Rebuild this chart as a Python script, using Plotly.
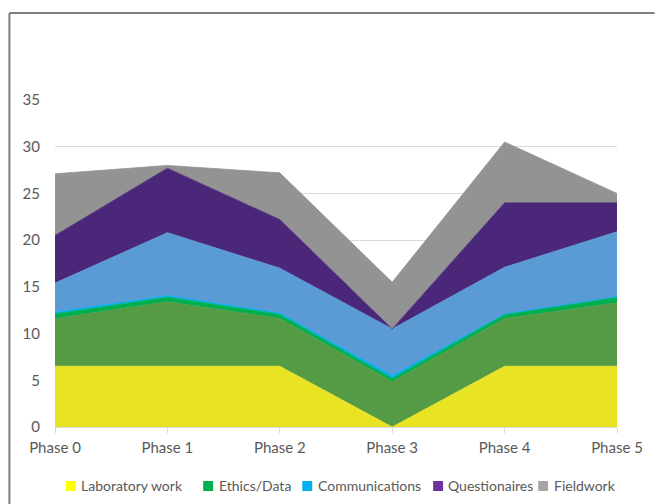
import plotly.graph_objects as go

phases = ["Phase 0", "Phase 1", "Phase 2", "Phase 3", "Phase 4", "Phase 5"]
laboratory = [6.5, 6.5, 6.5, 0.0, 6.5, 6.5]
lab_support = [5.1, 6.9, 5.1, 4.85, 5.1, 6.8]
ethics = [0.5, 0.5, 0.45, 0.35, 0.45, 0.6]
communications = [0.2, 0.15, 0.15, 0.3, 0.05, 0.05]
comm_support = [3.1, 6.75, 4.8, 5.0, 5.0, 6.95]
questionaires = [5.1, 6.9, 5.2, 0.0, 6.9, 3.1]
fieldwork = [6.6, 0.3, 5.0, 5.0, 6.5, 1.0]

y_ticks = [0, 5, 10, 15, 20, 25, 30, 35]

bands = [
    (laboratory, "#E8E424"),
    (lab_support, "#559A45"),
    (ethics, "#00B050"),
    (communications, "#00B0F0"),
    (comm_support, "#5B9BD5"),
    (questionaires, "#4B2779"),
    (fieldwork, "#939393"),
]

legend_names = ["Laboratory work", "Ethics/Data", "Communications", "Questionaires", "Fieldwork"]
legend_colors = ["#FFFF00", "#00B050", "#00B0F0", "#7030A0", "#A5A5A5"]

# plot-area geometry (pixels) for placing the manual legend
L, R, T, B = 55, 622, 100, 427
W, H = R - L, B - T
def px_x(p): return (p - L) / W
def px_y(p): return (B - p) / H

x = list(range(len(phases)))
fig = go.Figure()
for vals, col in bands:
    fig.add_trace(go.Scatter(
        x=x, y=vals, stackgroup="one", mode="lines",
        line=dict(color=col, width=0.8), fillcolor=col,
        showlegend=False, hoverinfo="skip",
    ))

font = "Lato, 'Open Sans', sans-serif"
text_col = "#595959"

legend_marker_px = [71, 209.5, 309.5, 441.5, 547.5]
legend_text_px = [79, 218, 318, 449, 556]
legend_y = 486
shapes = [
    dict(type="line", xref="paper", yref="paper", x0=px_x(9), x1=px_x(660),
         y0=px_y(13), y1=px_y(13), line=dict(color="#808080", width=2)),
    dict(type="line", xref="paper", yref="paper", x0=px_x(9), x1=px_x(9),
         y0=px_y(13), y1=px_y(510), line=dict(color="#808080", width=2)),
]
annotations = []
for name, col, mx, tx in zip(legend_names, legend_colors, legend_marker_px, legend_text_px):
    shapes.append(dict(type="rect", xref="paper", yref="paper",
                       x0=px_x(mx - 5), x1=px_x(mx + 5),
                       y0=px_y(legend_y + 5), y1=px_y(legend_y - 5),
                       fillcolor=col, line=dict(width=0)))
    annotations.append(dict(text=name, xref="paper", yref="paper",
                            x=px_x(tx), y=px_y(legend_y), xanchor="left", yanchor="middle",
                            showarrow=False, font=dict(family=font, size=14, color=text_col)))

fig.update_layout(
    width=655, height=504,
    margin=dict(l=L, r=655 - R, t=T, b=504 - B),
    paper_bgcolor="white", plot_bgcolor="white",
    font=dict(family=font, size=15, color=text_col),
    showlegend=False,
    xaxis=dict(
        range=[0, 5], tickvals=x, ticktext=phases,
        showgrid=False, zeroline=False,
        showline=True, linecolor="#D9D9D9", linewidth=1,
        ticks="outside", ticklen=5, tickcolor="#D9D9D9",
        ticklabelstandoff=2,
        tickfont=dict(size=15, color=text_col),
    ),
    yaxis=dict(
        range=[0, 35], tickvals=y_ticks,
        showgrid=True, gridcolor="#D9D9D9", gridwidth=1,
        zeroline=False, showline=False,
        ticklabelstandoff=14,
        tickfont=dict(size=15, color=text_col),
    ),
    shapes=shapes,
    annotations=annotations,
)

fig.write_html("out.html")
